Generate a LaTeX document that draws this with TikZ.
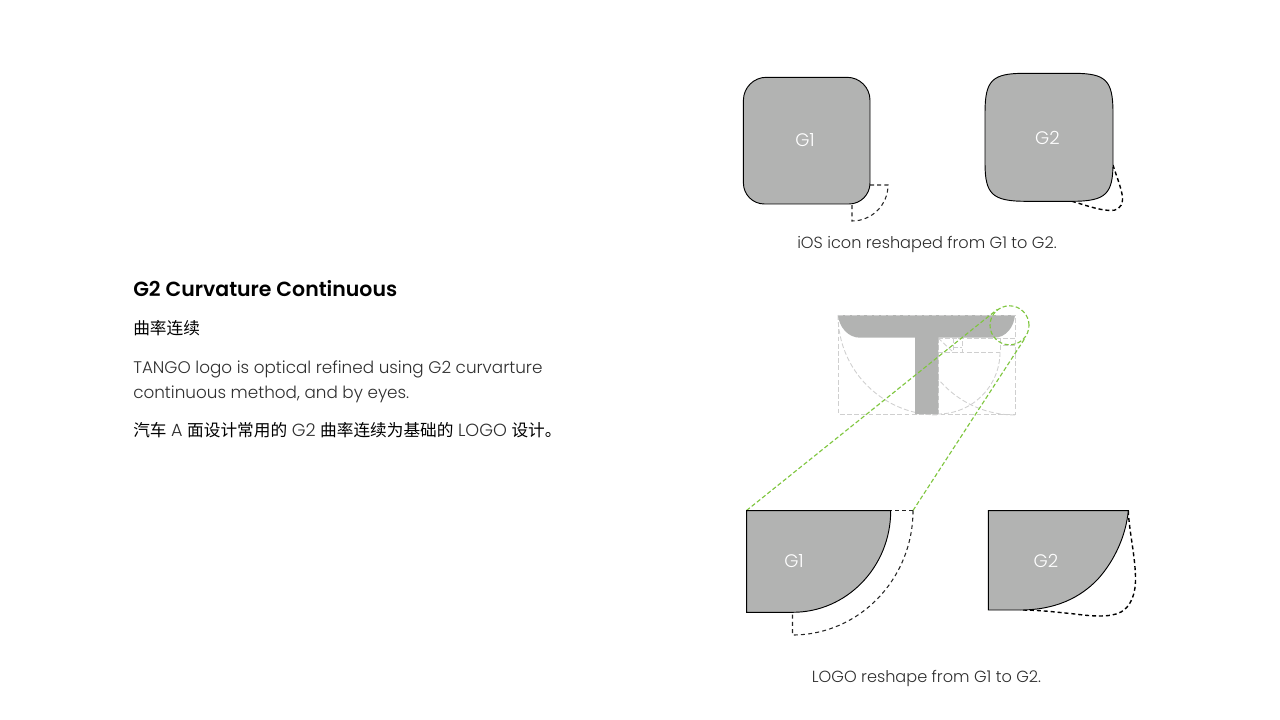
\documentclass[tikz,border=0pt]{standalone}
\usepackage{fontspec}
\setmainfont{Poppins}[UprightFont=* Light,BoldFont=* SemiBold]
\newfontfamily\cjk{Noto Sans CJK SC}
\definecolor{shapegray}{HTML}{B2B3B2}
\definecolor{guidegray}{HTML}{CFCFCF}
\definecolor{guidegreen}{HTML}{7FC63F}
\definecolor{bodyink}{HTML}{2E2E2E}
\tikzset{
  fillshape/.style={fill=shapegray,draw=black,line width=.7pt},
  comb/.style={draw=black!85,line width=.8pt,dash pattern=on 3pt off 2.4pt},
  combbold/.style={draw=black,line width=1.05pt,dash pattern=on 3pt off 2.2pt},
  guide/.style={draw=guidegray,line width=.75pt,dash pattern=on 3.6pt off 1.8pt},
  guidethin/.style={draw=guidegray,line width=.65pt,dash pattern=on 3.6pt off 1.8pt},
  greenline/.style={draw=guidegreen,line width=.85pt,dash pattern=on 3.2pt off 1.8pt},
  shapelabel/.style={text=white,font=\fontsize{13.6pt}{15pt}\selectfont,inner sep=0pt},
  caption/.style={text=bodyink,font=\fontsize{12.1pt}{14pt}\selectfont,inner sep=0pt,anchor=base},
  bodytext/.style={text=bodyink,font=\fontsize{12.6pt}{15pt}\selectfont,inner sep=0pt,anchor=base west},
}
\begin{document}
\begin{tikzpicture}[x=.75pt,y=-.75pt]
\useasboundingbox (0,0) rectangle (1280,720);
% left text
\node[inner sep=0pt,anchor=base west,font=\fontsize{15.35pt}{18pt}\selectfont\bfseries] (title) at (133,296.7) {G2 Curvature Continuous};
\node[inner sep=0pt,anchor=base west,font=\fontsize{12.5pt}{15pt}\selectfont\cjk] (subtitle) at (133,334.5) {曲率连续};
\node[bodytext] (bodya) at (133,373) {TANGO logo is optical refined using G2 curvarture};
\node[bodytext] (bodyb) at (133,398) {continuous method, and by eyes.};
\node[bodytext,text=black,font=\fontsize{12.5pt}{15pt}\selectfont] (bodyc) at (133,436.8) {{\cjk 汽车} \textcolor{bodyink}{\fontsize{13.2pt}{15pt}\selectfont A} {\cjk 面设计常用的} \textcolor{bodyink}{\fontsize{13.2pt}{15pt}\selectfont G2} {\cjk 曲率连续为基础的} \textcolor{bodyink}{\fontsize{13.2pt}{15pt}\selectfont LOGO} {\cjk 设计。}};
% iOS G1
\draw[comb] (870,185) -- (888,185) arc[start angle=0,end angle=90,radius=36] -- (852,204);
\draw[fillshape] (743.4,100.3) arc[start angle=180,end angle=270,radius=23] -- (847,77.3) arc[start angle=270,end angle=360,radius=23] -- (870,183) arc[start angle=0,end angle=90,radius=21] -- (764.4,204) arc[start angle=90,end angle=180,radius=21] -- cycle;
\node[shapelabel] (iosa) at (805,140.5) {G1};
% iOS G2
\draw[combbold] (1113,165) .. controls (1117,178) and (1123,192) .. (1122.5,200) .. controls (1122,208) and (1116,211) .. (1110,210.5) .. controls (1098,210) and (1085,205) .. (1071,201);
\draw[fillshape] (985,113) .. controls (985,80) and (992,73.3) .. (1025,73.3) -- (1073,73.3) .. controls (1106,73.3) and (1113,80) .. (1113,113) -- (1113,163) .. controls (1113,194) and (1106,201.3) .. (1072,201.3) -- (1026,201.3) .. controls (992,201.3) and (985,194) .. (985,163) -- cycle;
\node[shapelabel] (iosb) at (1047.5,138) {G2};
\node[caption] (capa) at (927,248) {iOS icon reshaped from G1 to G2.};
% T guides
\draw[guide] (838,315) rectangle (1015,414);
\draw[guidethin] (838,315) arc[start angle=180,end angle=90,radius=100];
\draw[guidethin] (1015,415) arc[start angle=90,end angle=180,radius=100];
\draw[guidethin] (1000,352) arc[start angle=0,end angle=90,radius=62];
\draw[guide] (938,338) -- (938,414);
\draw[guide] (938,352) -- (1000,352);
\draw[guide] (1000,338) -- (1000,352);
\draw[guide] (938,338) -- (1015,338);
\draw[guide] (953,338) rectangle (962,352);
\draw[guide] (953,347) -- (962,347);
\draw[guidethin] (938,338) -- (953,352);
\draw[guide] (1003,345) -- (1015,345);
% T
\fill[shapegray] (838,315) -- (1015,315) .. controls (1014,327) and (1006,337.7) .. (994,337.7) -- (938.3,337.7) -- (938.3,414) -- (915,414) -- (915,337.7) -- (860,337.7) .. controls (848,337.7) and (839,327) .. (838,315) -- cycle;
\draw[guide] (838,315) -- (1015,315);
% green
\node[circle,draw=guidegreen,line width=.85pt,dash pattern=on 3.2pt off 1.8pt,minimum size=29.25pt,inner sep=0pt] (lens) at (1009.5,325.3) {};
\coordinate (leftfoot) at (746.5,510.5);
\coordinate (rightfoot) at (913,510.5);
\draw[greenline] (leftfoot) -- (lens.127);
\draw[greenline] (rightfoot) -- (lens.-38);
% logo G1
\draw[comb] (rightfoot) -- (890.7,510.5);
\draw[comb] (rightfoot) arc[start angle=0,end angle=90,x radius=120.5,y radius=124.5] -- (792.5,612.3);
\draw[fillshape] (746.7,510.7) -- (890.7,510.7) arc[start angle=0,end angle=90,x radius=98,y radius=101.6] -- (746.7,612.3) -- cycle;
\node[shapelabel] (logoa) at (794,561) {G1};
% logo G2
\draw[combbold] (1128.3,511) .. controls (1129,530) and (1135,555) .. (1135.5,577) .. controls (1136,595) and (1130,607) .. (1121,612) .. controls (1110,618) and (1090,616) .. (1075,614) .. controls (1055,612) and (1040,610) .. (1020,610);
\draw[fillshape] (988.3,510.7) -- (1128.3,510.7) .. controls (1126,535) and (1115,560) .. (1098,579) .. controls (1080,598) and (1055,610) .. (1020,610) -- (988.3,610) -- cycle;
\node[shapelabel] (logob) at (1046,561) {G2};
\node[caption] (capb) at (926.5,682.5) {LOGO reshape from G1 to G2.};
\end{tikzpicture}
\end{document}
